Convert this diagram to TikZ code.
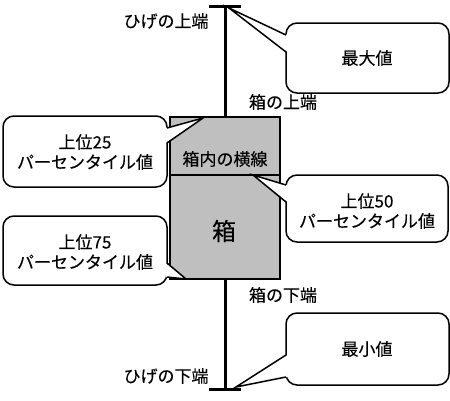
\documentclass[tikz,border=0pt]{standalone}
\usepackage{fontspec}
\setmainfont[FakeBold=0.25]{Noto Sans CJK JP}
\begin{document}
\begin{tikzpicture}[x=1pt,y=-1pt,
  lbl/.style={font=\fontsize{17}{20}\selectfont, inner sep=0pt},
  ctext/.style={font=\fontsize{17}{20}\selectfont, align=center, inner sep=0pt},
  cbox/.style={draw=black, line width=1.5pt, fill=white, rounded corners=11pt},
  cptr/.style={fill=white, draw=none},
  cline/.style={draw=black, line width=1.5pt},
  whisk/.style={line width=3pt, draw=black},
  boxst/.style={draw=black, line width=1.5pt, fill=black!25}]
\useasboundingbox (0,0) rectangle (450,400);
% whiskers
\coordinate (wtopl) at (209,6); \coordinate (wtopr) at (241,6);
\coordinate (wtop) at (225,6); \coordinate (wbot) at (225,389);
\coordinate (wbotl) at (209,389); \coordinate (wbotr) at (241,389);
\draw[whisk] (wtop) -- (wbot);
\draw[whisk] (wtopl) -- (wtopr);
\draw[whisk] (wbotl) -- (wbotr);
% box
\draw[boxst] (170,117) rectangle (280,279);
\coordinate (medl) at (170,175); \coordinate (medr) at (280,175);
\draw[line width=2.5pt] (medl) -- (medr);
% labels
\node[lbl] (lwt) at (166,21) {ひげの上端};
\node[lbl] (lbt) at (283,102) {箱の上端};
\node[lbl] (lmed) at (225,159) {箱内の横線};
\node[font=\fontsize{24}{26}\selectfont, inner sep=0pt] (lbox) at (224,231) {箱};
\node[lbl] (lbb) at (283,295) {箱の下端};
\node[lbl] (lwb) at (166,376) {ひげの下端};
% callout: max
\draw[cbox] (286,23) rectangle (449,93);
\coordinate (pmax) at (229,8);
\fill[cptr] (pmax) -- (287.5,35) -- (287.5,52) -- cycle;
\draw[cline] (286,35) -- (pmax) -- (286,52);
\node[ctext] (tmax) at (367,58) {最大値};
% callout: 25
\draw[cbox] (3,116) rectangle (167,187);
\coordinate (p25) at (203,118);
\fill[cptr] (p25) -- (165.5,128) -- (165.5,143) -- cycle;
\draw[cline] (167,128) -- (p25) -- (167,143);
\node[ctext] (t25) at (85,152) {上位25\\パーセンタイル値};
% callout: 50
\draw[cbox] (286,175) rectangle (448,242);
\coordinate (p50) at (253,175);
\fill[cptr] (p50) -- (287.5,185) -- (287.5,202) -- cycle;
\draw[cline] (286,185) -- (p50) -- (286,202);
\node[ctext] (t50) at (367,211) {上位50\\パーセンタイル値};
% callout: 75
\draw[cbox] (3,216) rectangle (167,285);
\coordinate (p75) at (186,279);
\fill[cptr] (p75) -- (165.5,263) -- (165.5,277) -- cycle;
\draw[cline] (167,263) -- (p75) -- (167,277);
\node[ctext] (t75) at (85,252) {上位75\\パーセンタイル値};
% callout: min
\draw[cbox] (286,313) rectangle (449,385);
\coordinate (pmin) at (236,387);
\fill[cptr] (pmin) -- (287.5,355) -- (287.5,377) -- cycle;
\draw[cline] (286,355) -- (pmin) -- (286,377);
\node[ctext] (tmin) at (367,349) {最小値};
\end{tikzpicture}
\end{document}
